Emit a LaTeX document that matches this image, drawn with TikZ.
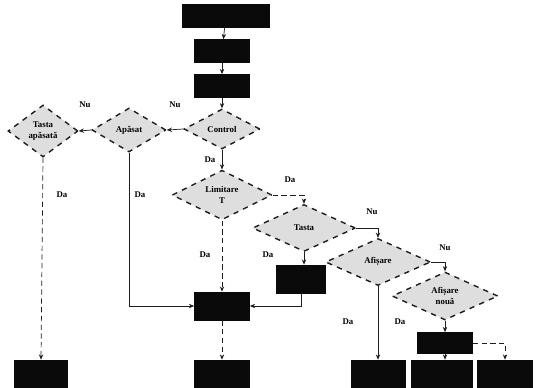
\documentclass[tikz,border=0pt]{standalone}
\usepackage{fontspec}
\setmainfont{Liberation Serif}
\usepackage{xcolor}
\usetikzlibrary{shapes.geometric,arrows.meta}
\definecolor{blockcolor}{RGB}{10, 10, 10}
\definecolor{decisionfill}{RGB}{222, 222, 222}
\definecolor{linecolor}{RGB}{30, 30, 30}

\tikzset{
  block/.style={rectangle,fill=blockcolor,draw=blockcolor,inner sep=0pt,minimum width=1.1cm,minimum height=0.46cm},
  decision/.style={diamond,draw=linecolor,thick,dashed,fill=decisionfill,inner sep=0pt,align=center,font=\tiny\bfseries},
  flow/.style={draw=linecolor,-{Stealth[length=3pt,width=2.5pt]}},
  dflow/.style={flow,densely dashed},
  answer/.style={font=\tiny\bfseries,inner sep=1pt}
}

\begin{document}
\begin{tikzpicture}[x=0.02cm,y=-0.02cm]
        \useasboundingbox (0,0) rectangle (536,387);
        % Main column
        \node[block,minimum width=1.74cm] (start) at (226,16) {};
        \node[block] (init) at (222,51) {};
        \node[block] (read) at (222,86) {};
        \node[decision,minimum width=1.52cm,minimum height=0.8cm] (control) at (222,129) {Control};
        \node[decision,minimum width=1.48cm,minimum height=0.88cm] (pressed) at (129,130) {Apăsat};
        \node[decision,minimum width=1.4cm,minimum height=1.04cm] (key) at (43,131) {Tasta\\apăsată};
        \node[decision,minimum width=2cm,minimum height=0.92cm] (limit) at (222,195) {Limitare\\T};
        \node[block,minimum height=0.56cm] (central) at (222,306) {};
        % Right branch
        \node[decision,minimum width=2.06cm,minimum height=0.94cm] (keytwo) at (304,228) {Tasta};
        \node[block,minimum width=0.98cm,minimum height=0.56cm] (setval) at (301,279) {};
        \node[decision,minimum width=2.1cm,minimum height=0.94cm] (show) at (378,262) {Afișare};
        \node[decision,minimum width=2.12cm,minimum height=0.96cm] (shownew) at (445,296) {Afișare\\nouă};
        \node[block,minimum height=0.42cm] (update) at (445,343) {};
        % Bottom row
        \foreach \name/\x/\w in {endleft/41/1.06,endmid/222/1.1,endone/378/1.08,endtwo/442/1.22,endthree/505/1.1}
            \node[block,minimum width=\w cm,minimum height=0.56cm] (\name) at (\x,374) {};
        % Connectors
        \draw[flow] (start) -- (init);
        \draw[flow] (init) -- (read);
        \draw[flow] (read) -- (control);
        \draw[flow] (control.west) -- (pressed.east);
        \draw[flow] (pressed.west) -- (key.east);
        \draw[dflow] (key.south) -- (endleft.north);
        \draw[flow] (pressed.south) |- (central.west);
        \draw[flow] (control.south) -- (limit.north);
        \draw[dflow] (limit.south) -- (central.north);
        \draw[dflow] (limit.east) -| (keytwo.north);
        \draw[flow] (keytwo.south) -- (keytwo.south |- setval.north);
        \draw[flow] (setval.south) |- (central.east);
        \draw[flow] (keytwo.east) -| (show.north);
        \draw[flow] (show.east) -| (shownew.north);
        \draw[flow] (show.south) -- (endone.north);
        \draw[flow] (shownew.south) -- (update.north);
        \draw[flow] (update.south) -- (update.south |- endtwo.north);
        \draw[dflow] (update.east) -| (endthree.north);
        \draw[dflow] (central.south) -- (endmid.north);
        % Answers
        \node[answer] (nuone) at (85,105) {Nu};
        \node[answer] (nutwo) at (175,105) {Nu};
        \node[answer] (daone) at (62,195) {Da};
        \node[answer] (datwo) at (140,195) {Da};
        \node[answer] (dathree) at (210,160) {Da};
        \node[answer] (dafour) at (205,255) {Da};
        \node[answer] (dafive) at (290,180) {Da};
        \node[answer] (dasix) at (268,255) {Da};
        \node[answer] (nuthree) at (372,212) {Nu};
        \node[answer] (nufour) at (445,248) {Nu};
        \node[answer] (daseven) at (348,322) {Da};
        \node[answer] (daeight) at (400,322) {Da};
    \end{tikzpicture}
\end{document}
